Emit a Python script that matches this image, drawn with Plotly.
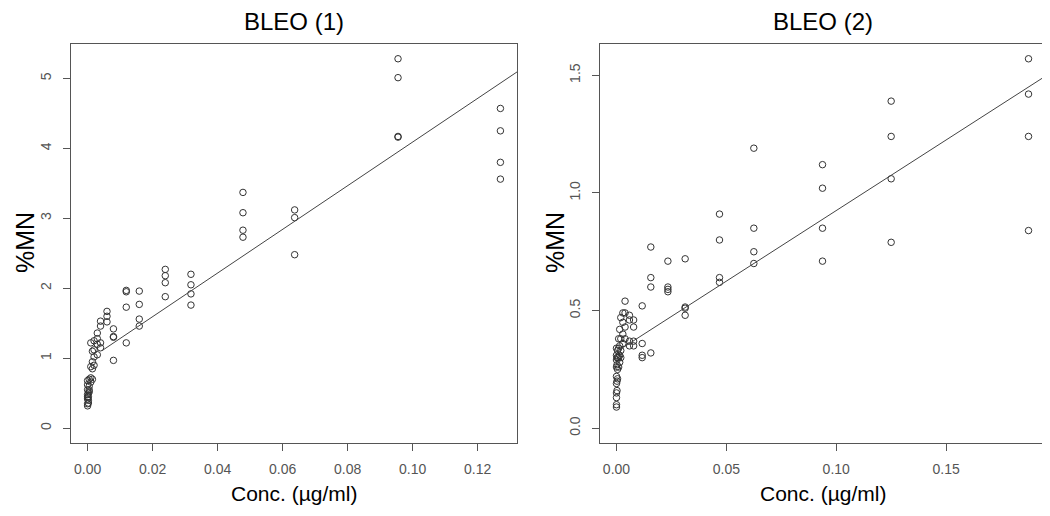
import plotly.graph_objects as go

# ---- data: BLEO (1) ----
conc1 = [0.127] * 4 + [0.0955] * 4 + [0.0637] * 3 + [0.0478] * 4 + [0.0318] * 4 \
    + [0.0239] * 4 + [0.0159] * 4 + [0.0119] * 4 + [0.00796] * 4 + [0.00597] * 3 \
    + [0.00398] * 4 + [0.00299] * 4 + [0.00199] * 4 + [0.00149] * 4 + [0.000995] * 4 \
    + [0.0005] * 4 + [0.00025] * 4 + [0.0] * 8
mn1 = [4.57, 4.25, 3.80, 3.56,
       5.28, 5.01, 4.17, 4.16,
       3.12, 3.01, 2.48,
       3.37, 3.08, 2.83, 2.73,
       2.20, 2.05, 1.92, 1.76,
       2.27, 2.18, 2.08, 1.88,
       1.96, 1.77, 1.56, 1.46,
       1.97, 1.95, 1.73, 1.22,
       1.42, 1.31, 1.30, 0.97,
       1.67, 1.60, 1.52,
       1.53, 1.46, 1.22, 1.15,
       1.36, 1.28, 1.20, 1.05,
       1.25, 1.12, 1.02, 0.90,
       1.10, 0.95, 0.85, 0.70,
       1.22, 0.88, 0.72, 0.66,
       0.70, 0.60, 0.55, 0.52,
       0.50, 0.45, 0.40, 0.36,
       0.68, 0.62, 0.55, 0.48, 0.45, 0.42, 0.35, 0.32]
fit1_start, fit1_end = 0.0045, 0.1321
fit1_intercept, fit1_slope = 0.97, 31.2

# ---- data: BLEO (2) ----
conc2 = [0.1875] * 4 + [0.125] * 4 + [0.09375] * 4 + [0.0625] * 4 + [0.046875] * 4 \
    + [0.03125] * 4 + [0.0234] * 4 + [0.015625] * 4 + [0.0117] * 4 + [0.0078] * 4 \
    + [0.0059] * 4 + [0.0039] * 4 + [0.0029] * 4 + [0.00195] * 4 + [0.00146] * 4 \
    + [0.00098] * 4 + [0.00049] * 4 + [0.00024] * 4 + [0.0] * 10
mn2 = [1.57, 1.42, 1.24, 0.84,
       1.39, 1.24, 1.06, 0.79,
       1.12, 1.02, 0.85, 0.71,
       1.19, 0.85, 0.75, 0.70,
       0.91, 0.80, 0.64, 0.62,
       0.72, 0.515, 0.51, 0.48,
       0.71, 0.60, 0.59, 0.58,
       0.77, 0.64, 0.60, 0.32,
       0.52, 0.36, 0.31, 0.30,
       0.46, 0.43, 0.37, 0.35,
       0.48, 0.46, 0.37, 0.35,
       0.54, 0.49, 0.43, 0.38,
       0.49, 0.45, 0.40, 0.36,
       0.47, 0.38, 0.33, 0.30,
       0.42, 0.35, 0.31, 0.28,
       0.38, 0.34, 0.30, 0.26,
       0.33, 0.30, 0.25, 0.21,
       0.30, 0.27, 0.20, 0.16,
       0.34, 0.31, 0.29, 0.26, 0.22, 0.19, 0.15, 0.13, 0.10, 0.09]
fit2_start, fit2_end = 0.002, 0.195
fit2_intercept, fit2_slope = 0.325, 6.0

titles = ["BLEO (1)", "BLEO (2)"]
xlabel = "Conc. (µg/ml)"
ylabel = "%MN"

# page body has an 8px margin: figure starts at (8, 8) in the window
OFF = 8
W, H = 1050 - OFF, 516 - 2 * OFF
FONT = "Liberation Sans, Arial, sans-serif"
mark = dict(symbol="circle-open", size=6.5, color="#333", line=dict(width=1, color="#333"))


def px(x):
    return (x - OFF) / W


def py(y):
    return 1 - (y - OFF) / H


fig = go.Figure()
fig.add_trace(go.Scatter(x=conc1, y=mn1, mode="markers", marker=mark, xaxis="x", yaxis="y"))
fig.add_trace(go.Scatter(
    x=[fit1_start, fit1_end],
    y=[fit1_intercept + fit1_slope * fit1_start, fit1_intercept + fit1_slope * fit1_end],
    mode="lines", line=dict(color="#444", width=1), xaxis="x", yaxis="y"))
fig.add_trace(go.Scatter(x=conc2, y=mn2, mode="markers", marker=mark, xaxis="x2", yaxis="y2"))
fig.add_trace(go.Scatter(
    x=[fit2_start, fit2_end],
    y=[fit2_intercept + fit2_slope * fit2_start, fit2_intercept + fit2_slope * fit2_end],
    mode="lines", line=dict(color="#444", width=1), xaxis="x2", yaxis="y2"))

# plot boxes in window pixels
box1 = (71, 517)
box2 = (600, 1045)
top, bottom = 44, 443
ydom = [py(bottom), py(top)]

axis_common = dict(showline=True, mirror=True, linecolor="#555", linewidth=1,
                   ticks="outside", ticklen=7, tickcolor="#555", showgrid=False,
                   zeroline=False, tickfont=dict(family=FONT, size=14, color="#555"))

fig.update_layout(
    width=W, height=H, showlegend=False,
    plot_bgcolor="white", paper_bgcolor="white",
    margin=dict(l=0, r=0, t=0, b=0),
    xaxis=dict(domain=[px(box1[0]), px(box1[1])], range=[-0.0051, 0.1321],
               tickvals=[0, 0.02, 0.04, 0.06, 0.08, 0.10, 0.12], tickformat=".2f",
               anchor="y", ticklabelstandoff=6, **axis_common),
    yaxis=dict(domain=ydom, range=[-0.211, 5.491], tickvals=[0, 1, 2, 3, 4, 5],
               tickangle=-90, anchor="x", ticklabelstandoff=6, **axis_common),
    xaxis2=dict(domain=[px(box2[0]), px(box2[1])], range=[-0.0075, 0.195],
                tickvals=[0, 0.05, 0.10, 0.15], tickformat=".2f",
                anchor="y2", ticklabelstandoff=6, **axis_common),
    yaxis2=dict(domain=ydom, range=[-0.0628, 1.6328], tickvals=[0, 0.5, 1.0, 1.5],
                tickformat=".1f", tickangle=-90, anchor="x2", ticklabelstandoff=6,
                **axis_common),
)

annos = []
for (l, r), t, ylab_x in [(box1, titles[0], 25), (box2, titles[1], 555)]:
    cx = px((l + r) / 2)
    annos.append(dict(text=t, x=cx, y=py(21.5), xref="paper", yref="paper",
                      xanchor="center", yanchor="middle", showarrow=False, borderpad=0,
                      font=dict(family=FONT, size=24, color="black")))
    annos.append(dict(text=xlabel, x=cx, y=py(493), xref="paper", yref="paper",
                      xanchor="center", yanchor="middle", showarrow=False,
                      font=dict(family=FONT, size=21, color="black")))
    annos.append(dict(text=ylabel, x=px(ylab_x), y=py(243), xref="paper", yref="paper",
                      xanchor="center", yanchor="middle", showarrow=False, textangle=-90,
                      font=dict(family=FONT, size=25, color="black")))
fig.update_layout(annotations=annos)

fig.write_html("out.html")
